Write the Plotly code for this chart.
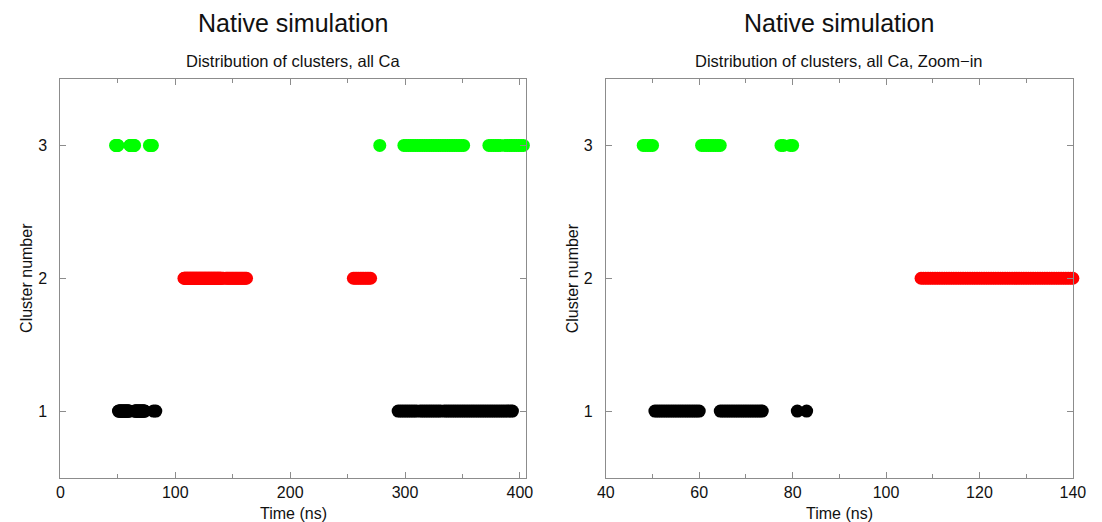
import plotly.graph_objects as go

# ---- data (time in ns) ----
green_t = [48, 48.5, 49, 49.5, 50, 60.5, 61, 61.5, 62, 62.5, 63, 63.5, 64, 64.5,
           77.5, 78, 79.5, 80, 278,
           299, 301, 303, 305, 307, 309, 311, 313, 315, 317, 319, 321, 323, 325, 327,
           329, 331, 333, 335, 337, 339, 341, 343, 345, 347, 349, 351,
           373, 375, 377, 379, 381, 383, 387, 389, 391, 393, 395, 397, 399, 401, 403]
red_t = [107.5, 108, 108.5, 109, 109.5, 110, 110.5, 111, 111.5, 112, 112.5, 113,
         113.5, 114, 114.5, 115, 115.5, 116, 116.5, 117, 117.5, 118, 118.5, 119,
         119.5, 120, 120.5, 121, 121.5, 122, 122.5, 123, 123.5, 124, 124.5, 125,
         125.5, 126, 126.5, 127, 127.5, 128, 128.5, 129, 129.5, 130, 130.5, 131,
         131.5, 132, 132.5, 133, 133.5, 134, 134.5, 135, 135.5, 136, 136.5, 137,
         137.5, 138, 138.5, 139, 139.5, 140,
         141, 142, 144, 145, 146, 147, 148, 149, 150, 151, 152, 153, 154, 155, 156, 157,
         158, 159, 160, 161, 162,
         255, 256.5, 258, 259.5, 261, 262.5, 264, 265.5, 267, 268.5, 270]
black_t = [50.5, 51, 51.5, 52, 52.5, 53, 53.5, 54, 54.5, 55, 55.5, 56, 56.5, 57,
           57.5, 58, 58.5, 59, 59.5, 60,
           64.5, 65, 65.5, 66, 66.5, 67, 67.5, 68, 68.5, 69, 69.5, 70, 70.5, 71,
           71.5, 72, 72.5, 73, 73.5, 81, 83,
           294, 296, 298, 300, 302, 304, 306, 308, 310, 313, 315, 317, 319, 321, 323,
           325, 327, 329, 331, 334, 336, 338, 340, 342, 344, 346, 348, 350, 352, 354,
           356, 358, 360, 362, 364, 366, 368, 370, 372, 374, 376, 378, 380, 382, 384,
           386, 388, 390, 392, 393.5]

clusters = {3: green_t, 2: red_t, 1: black_t}
colors = {3: "#00ff00", 2: "#ff0000", 1: "#000000"}

left_range = [0, 405.7]
right_range = [40, 140]
left_ticks = [0, 100, 200, 300, 400]
left_minor = [50, 150, 250, 350]
right_ticks = [40, 60, 80, 100, 120, 140]
right_minor = [50, 70, 90, 110, 130]
y_ticks = [1, 2, 3]

W, H = 1102, 522
FONT = "Liberation Sans, Arial, Helvetica, sans-serif"

fig = go.Figure()
for c in [3, 2, 1]:
    ts = clusters[c]
    fig.add_trace(go.Scatter(x=ts, y=[c] * len(ts), mode="markers",
                             marker=dict(size=13, color=colors[c], line=dict(width=0)),
                             cliponaxis=False, xaxis="x", yaxis="y", showlegend=False))
    tr = [t for t in ts if right_range[0] <= t <= right_range[1]]
    fig.add_trace(go.Scatter(x=tr, y=[c] * len(tr), mode="markers",
                             marker=dict(size=13, color=colors[c], line=dict(width=0)),
                             cliponaxis=False, xaxis="x2", yaxis="y2", showlegend=False))

# plot frames in pixels
L1, R1 = 52.5, 528.0
L2, R2 = 609.0, 1085.5
TOP, BOT = 79.0, 477.5

def px(x):
    return x / W

def py(y):
    return 1 - y / H

axis_common = dict(showgrid=False, zeroline=False, showline=True, linecolor="#8c8c8c",
                   linewidth=1, ticks="inside", ticklen=6, tickcolor="#8c8c8c",
                   mirror="allticks", tickfont=dict(size=16, color="#111", family=FONT))

fig.update_layout(
    width=W, height=H, margin=dict(l=0, r=0, t=0, b=0),
    paper_bgcolor="white", plot_bgcolor="white",
    font=dict(family=FONT, color="#111"),
    xaxis=dict(domain=[px(L1), px(R1)], range=left_range, tickvals=left_ticks,
               minor=dict(tickvals=left_minor, ticks="inside", ticklen=4, tickcolor="#8c8c8c"),
               anchor="y", ticklabelstandoff=0, **axis_common),
    yaxis=dict(domain=[py(BOT), py(TOP)], range=[0.5, 3.5], tickvals=y_ticks,
               anchor="x", ticklabelstandoff=9, **axis_common),
    xaxis2=dict(domain=[px(L2), px(R2)], range=right_range, tickvals=right_ticks,
                minor=dict(tickvals=right_minor, ticks="inside", ticklen=4, tickcolor="#8c8c8c"),
                anchor="y2", ticklabelstandoff=0, **axis_common),
    yaxis2=dict(domain=[py(BOT), py(TOP)], range=[0.5, 3.5], tickvals=y_ticks,
                anchor="x2", ticklabelstandoff=9, **axis_common),
)

ann = []
for (l, r, sub) in [(L1, R1, "Distribution of clusters, all Ca"),
                    (L2, R2, "Distribution of clusters, all Ca, Zoom\u2212in")]:
    cx = px((l + r) / 2)
    ann.append(dict(text="Native simulation", x=cx, y=py(23), xref="paper", yref="paper",
                    showarrow=False, xanchor="center", yanchor="middle",
                    font=dict(size=25, family=FONT, color="#111")))
    ann.append(dict(text=sub, x=cx, y=py(61), xref="paper", yref="paper",
                    showarrow=False, xanchor="center", yanchor="middle",
                    font=dict(size=16.5, family=FONT, color="#111")))
    ann.append(dict(text="Time (ns)", x=cx, y=py(513), xref="paper", yref="paper",
                    showarrow=False, xanchor="center", yanchor="middle",
                    font=dict(size=16, family=FONT, color="#111")))
    ann.append(dict(text="Cluster number", x=px(l - 34.5), y=py((TOP + BOT) / 2),
                    xref="paper", yref="paper", showarrow=False, textangle=-90,
                    xanchor="center", yanchor="middle",
                    font=dict(size=16, family=FONT, color="#111")))
fig.update_layout(annotations=ann)

fig.write_html("out.html", config={"displayModeBar": False},
               post_script="document.body.style.margin='0';document.body.style.overflow='hidden';")
